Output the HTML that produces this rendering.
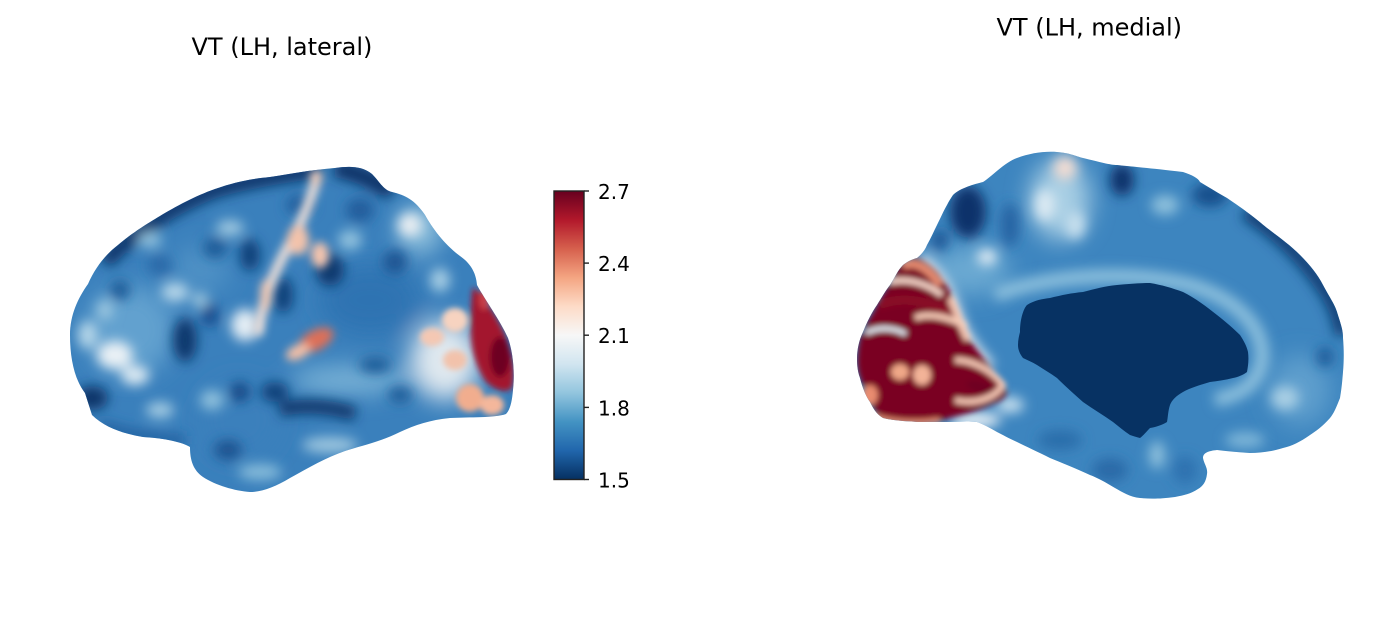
<!DOCTYPE html>
<html><head><meta charset="utf-8"><style>
html,body{margin:0;padding:0;background:#fff;}
svg{display:block;}
text{font-family:"DejaVu Sans","Liberation Sans",sans-serif;fill:#000;}
</style></head><body>
<svg width="1396" height="639" viewBox="0 0 1396 639" xmlns="http://www.w3.org/2000/svg">
<defs>
<linearGradient id="cb" x1="0" y1="1" x2="0" y2="0">
<stop offset="0" stop-color="#053061"/><stop offset="0.1" stop-color="#2166ac"/><stop offset="0.2" stop-color="#4393c3"/><stop offset="0.3" stop-color="#92c5de"/><stop offset="0.4" stop-color="#d1e5f0"/><stop offset="0.5" stop-color="#f7f7f7"/><stop offset="0.6" stop-color="#fddbc7"/><stop offset="0.7" stop-color="#f4a582"/><stop offset="0.8" stop-color="#d6604d"/><stop offset="0.9" stop-color="#b2182b"/><stop offset="1" stop-color="#67001f"/>
</linearGradient>
<filter id="b6" filterUnits="userSpaceOnUse" x="0" y="0" width="1396" height="639"><feGaussianBlur stdDeviation="6"/></filter>
<filter id="b4u" filterUnits="userSpaceOnUse" x="0" y="0" width="1396" height="639"><feGaussianBlur stdDeviation="4.5"/></filter>
<filter id="b3u" filterUnits="userSpaceOnUse" x="0" y="0" width="1396" height="639"><feGaussianBlur stdDeviation="3"/></filter>
<filter id="b12" filterUnits="userSpaceOnUse" x="0" y="0" width="1396" height="639"><feGaussianBlur stdDeviation="12"/></filter>
<clipPath id="latc"><path d="M85,393 C75,380 70,360 70,335 C70,315 78,298 88,284 C95,268 105,255 118,245 C130,235 140,228 160,216 C175,207 195,196 215,189 C235,182 250,179 270,177 C290,174 310,170 335,168 C350,166 362,166 372,174 C380,182 383,190 392,192 C405,195 415,200 425,215 C432,228 445,245 460,256 C470,263 476,272 477,285 C485,300 500,320 508,338 C513,352 515,372 513,390 C512,402 510,410 506,414 C495,418 470,417 450,418 C430,420 415,425 400,432 C380,442 360,446 345,451 C325,458 310,467 290,478 C275,487 262,492 250,492 C235,491 215,485 203,477 C193,470 190,460 190,447 C180,441 160,438 143,437 C125,434 105,428 92,415 Z"/></clipPath>
<clipPath id="medc"><path d="M953,195 C960,188 975,184 983,182 C990,178 1005,162 1017,158 C1030,153 1045,151 1057,152 C1070,153 1075,156 1083,158 C1100,162 1110,165 1117,165 C1135,167 1150,168 1183,172 C1192,175 1198,178 1200,182 C1210,188 1218,193 1227,198 C1245,210 1255,218 1267,228 C1280,238 1290,245 1300,255 C1310,265 1318,275 1323,285 C1330,298 1335,305 1337,312 C1341,325 1343,330 1343,338 C1344,350 1344,360 1343,372 C1342,385 1341,392 1340,398 C1336,408 1334,413 1330,418 C1322,427 1316,431 1310,435 C1300,442 1292,446 1283,448 C1270,452 1260,453 1250,453 C1235,452 1225,451 1217,450 C1208,451 1203,453 1203,458 C1204,464 1208,468 1207,474 C1206,482 1203,486 1198,489 C1190,494 1185,495 1175,497 C1160,499 1150,499 1140,498 C1130,497 1122,492 1115,488 C1105,482 1098,478 1090,475 C1075,468 1062,463 1050,458 C1038,452 1027,447 1017,442 C1008,438 1003,435 997,432 C990,428 983,424 977,422 C965,421 958,422 950,422 C935,422 925,422 917,422 C905,421 895,421 883,418 C876,414 873,408 870,402 C865,395 862,386 860,378 C857,370 857,362 857,358 C857,350 859,340 863,332 C867,322 872,312 877,305 C882,297 886,290 890,285 C895,277 898,270 903,265 C908,261 913,259 917,258 C922,254 925,250 927,245 C931,238 934,231 937,225 C941,217 944,210 947,205 C949,201 951,198 953,195 Z"/></clipPath>
</defs>

<rect width="1396" height="639" fill="#fff"/>

<!-- Titles -->
<text x="191.5" y="55" font-size="24">VT (LH, lateral)</text>
<text x="996.5" y="35.5" font-size="24">VT (LH, medial)</text>

<!-- ============ LATERAL ============ -->
<g clip-path="url(#latc)">
<rect x="60" y="160" width="470" height="340" fill="#3a80bc"/>
<g filter="url(#b12)">
  <ellipse cx="130" cy="330" rx="45" ry="45" fill="#62a1cf"/>
  <ellipse cx="370" cy="300" rx="50" ry="35" fill="#2f73b2"/>
  <ellipse cx="350" cy="380" rx="60" ry="14" fill="#7ab3d7"/>
  <ellipse cx="445" cy="360" rx="35" ry="40" fill="#dfe8ef"/>
  <ellipse cx="240" cy="420" rx="40" ry="40" fill="#3a80bc"/>
  <ellipse cx="420" cy="230" rx="22" ry="25" fill="#8dbfdc"/>
  <ellipse cx="200" cy="270" rx="30" ry="25" fill="#4d90c5"/>
</g>
<g filter="url(#b6)">
  <!-- dark top frontal rim -->
  <path d="M105,262 C130,235 165,210 215,190 C250,180 285,175 320,170" stroke="#093569" stroke-width="16" fill="none"/>
  <path d="M335,168 C355,172 375,180 392,192" stroke="#083266" stroke-width="18" fill="none"/>
  <ellipse cx="185" cy="340" rx="12" ry="22" fill="#0a386d"/>
  <ellipse cx="210" cy="315" rx="8" ry="12" fill="#14498a"/>
  <ellipse cx="92" cy="398" rx="16" ry="12" fill="#093569"/>
  <path d="M100,425 C130,435 160,440 185,440" stroke="#245f9e" stroke-width="10" fill="none"/>
  <ellipse cx="250" cy="255" rx="10" ry="16" fill="#0e3f78"/>
  <ellipse cx="283" cy="295" rx="10" ry="18" fill="#0e3f78"/>
  <ellipse cx="330" cy="270" rx="14" ry="16" fill="#0a386d"/>
  <ellipse cx="300" cy="205" rx="14" ry="10" fill="#235f9e"/>
  <ellipse cx="360" cy="210" rx="14" ry="12" fill="#215d9c"/>
  <ellipse cx="395" cy="262" rx="12" ry="12" fill="#1a5493"/>
  <path d="M280,410 C300,404 330,406 355,414" stroke="#093569" stroke-width="14" fill="none"/>
  <ellipse cx="275" cy="392" rx="14" ry="10" fill="#0e3f78"/>
  <ellipse cx="240" cy="392" rx="10" ry="10" fill="#134a86"/>
  <ellipse cx="228" cy="450" rx="14" ry="10" fill="#1a5290"/>
  <ellipse cx="215" cy="248" rx="12" ry="10" fill="#1f5b98"/>
  <ellipse cx="160" cy="265" rx="12" ry="10" fill="#2a69a8"/>
  <ellipse cx="375" cy="365" rx="16" ry="8" fill="#1f5b98"/>
  <ellipse cx="400" cy="395" rx="12" ry="8" fill="#1f5b98"/>
  <ellipse cx="120" cy="290" rx="10" ry="10" fill="#1f5b98"/>
  <!-- light patches -->
  <ellipse cx="115" cy="355" rx="18" ry="14" fill="#eaf1f5"/>
  <ellipse cx="135" cy="375" rx="14" ry="10" fill="#dbe9f2"/>
  <ellipse cx="88" cy="335" rx="10" ry="14" fill="#b4d5e8"/>
  <ellipse cx="245" cy="325" rx="14" ry="16" fill="#e3edf4"/>
  <ellipse cx="175" cy="292" rx="14" ry="10" fill="#b2d4e8"/>
  <ellipse cx="230" cy="228" rx="14" ry="8" fill="#9ec8e0"/>
  <ellipse cx="330" cy="445" rx="28" ry="8" fill="#9cc6df"/>
  <ellipse cx="260" cy="472" rx="22" ry="8" fill="#86bbda"/>
  <ellipse cx="212" cy="400" rx="12" ry="10" fill="#8dbfdc"/>
  <ellipse cx="410" cy="225" rx="12" ry="12" fill="#e9eef2"/>
  <ellipse cx="200" cy="300" rx="8" ry="8" fill="#9ec7df"/>
  <ellipse cx="150" cy="240" rx="12" ry="8" fill="#8fc0dc"/>
  <ellipse cx="105" cy="310" rx="8" ry="10" fill="#9ec8e0"/>
  <ellipse cx="350" cy="240" rx="12" ry="10" fill="#90c1dd"/>
  <ellipse cx="440" cy="280" rx="10" ry="12" fill="#a6cde3"/>
  <ellipse cx="160" cy="410" rx="14" ry="8" fill="#a3cbe2"/>
</g>
<g filter="url(#b4u)">
  <!-- central sulcus light / pink strip -->
  <path d="M318,172 C314,190 306,212 296,232 C285,252 272,275 265,300 C261,315 258,325 258,335" stroke="#eddfd9" stroke-width="10" fill="none"/>
  <ellipse cx="298" cy="240" rx="11" ry="15" fill="#f3c3ab"/>
  <ellipse cx="320" cy="255" rx="9" ry="13" fill="#f5c5ae"/>
  <ellipse cx="316" cy="178" rx="6" ry="8" fill="#f5d0bd"/>
  <ellipse cx="266" cy="295" rx="6" ry="16" fill="#f1c9b5"/>
  <!-- sylvian red -->
  <ellipse cx="316" cy="340" rx="19" ry="10" fill="#dd6f58" transform="rotate(-28 316 340)"/>
  <ellipse cx="298" cy="352" rx="13" ry="7" fill="#f6c0a6" transform="rotate(-25 298 352)"/>
</g>
<g filter="url(#b3u)">
  <!-- occipital pink -->
  <ellipse cx="455" cy="320" rx="13" ry="12" fill="#f7d3c0"/>
  <ellipse cx="432" cy="337" rx="12" ry="9" fill="#f4c8b3"/>
  <ellipse cx="455" cy="360" rx="12" ry="10" fill="#f2c2ab"/>
  <ellipse cx="470" cy="398" rx="14" ry="14" fill="#f1ad8e"/>
  <ellipse cx="492" cy="405" rx="12" ry="10" fill="#f4b79b"/>
  <!-- occipital red -->
  <path d="M473,287 C482,295 495,312 505,335 C512,352 516,370 512,388 C506,394 495,390 486,382 C478,370 472,355 471,335 C471,315 471,298 473,287 Z" fill="#a3142d"/>
  <ellipse cx="500" cy="357" rx="10" ry="20" fill="#6e0220"/>
  <ellipse cx="484" cy="300" rx="5" ry="10" fill="#c8414a"/>
</g>
</g>

<!-- Colorbar -->
<rect x="554" y="191" width="30" height="288.5" fill="url(#cb)" stroke="#222" stroke-width="1.4"/>
<g stroke="#222" stroke-width="1.4">
<line x1="584" y1="191" x2="589" y2="191"/>
<line x1="584" y1="263.1" x2="589" y2="263.1"/>
<line x1="584" y1="335.2" x2="589" y2="335.2"/>
<line x1="584" y1="407.4" x2="589" y2="407.4"/>
<line x1="584" y1="479.5" x2="589" y2="479.5"/>
</g>
<g font-size="20">
<text x="598" y="199">2.7</text>
<text x="598" y="271.1">2.4</text>
<text x="598" y="343.2">2.1</text>
<text x="598" y="415.4">1.8</text>
<text x="598" y="487.5">1.5</text>
</g>

<!-- ============ MEDIAL ============ -->
<g clip-path="url(#medc)">
<rect x="850" y="145" width="500" height="360" fill="#3d85bf"/>
<g filter="url(#b12)">
  <ellipse cx="1060" cy="200" rx="30" ry="40" fill="#a9cfe4"/>
  <ellipse cx="970" cy="270" rx="40" ry="25" fill="#6aa9d2"/>
  <ellipse cx="1300" cy="390" rx="30" ry="35" fill="#5e9fcd"/>
</g>
<g filter="url(#b6)">
  <!-- cingulate light ring -->
  <path d="M995,295 C1040,278 1120,268 1190,285 C1240,300 1265,330 1262,360 C1258,385 1240,395 1215,400" stroke="#8cc0dd" stroke-width="14" fill="none"/>
  <ellipse cx="968" cy="212" rx="18" ry="26" fill="#08336a"/>
  <ellipse cx="940" cy="240" rx="8" ry="10" fill="#1a5392"/>
  <ellipse cx="1010" cy="225" rx="9" ry="22" fill="#2564a3"/>
  <ellipse cx="1122" cy="180" rx="12" ry="16" fill="#08336a"/>
  <ellipse cx="1210" cy="195" rx="18" ry="12" fill="#194f8c"/>
  <path d="M1245,212 C1280,235 1305,260 1325,290 C1335,305 1340,320 1342,335" stroke="#0b3a70" stroke-width="14" fill="none"/>
  <ellipse cx="1325" cy="357" rx="8" ry="10" fill="#1e5a98"/>
  <ellipse cx="1065" cy="168" rx="12" ry="12" fill="#f3ddd3"/>
  <ellipse cx="1045" cy="205" rx="10" ry="16" fill="#dceaf3"/>
  <ellipse cx="1075" cy="225" rx="10" ry="14" fill="#c8e0ee"/>
  <ellipse cx="1165" cy="205" rx="14" ry="10" fill="#8dc0dc"/>
  <ellipse cx="987" cy="257" rx="10" ry="8" fill="#e3eef5"/>
  <ellipse cx="1285" cy="398" rx="14" ry="12" fill="#a9cfe4"/>
  <ellipse cx="1245" cy="440" rx="20" ry="8" fill="#7db5d8"/>
  <ellipse cx="975" cy="420" rx="26" ry="8" fill="#e6eff5"/>
  <ellipse cx="1010" cy="405" rx="14" ry="8" fill="#c6dfee"/>
  <ellipse cx="1060" cy="440" rx="22" ry="10" fill="#2c6eab"/>
  <ellipse cx="1110" cy="470" rx="18" ry="12" fill="#2a6aa8"/>
  <ellipse cx="1157" cy="455" rx="8" ry="14" fill="#8dc0dc"/>
  <ellipse cx="1185" cy="470" rx="12" ry="14" fill="#2f72b0"/>
  <!-- pink/white transition at red edge -->
  <path d="M920,258 C935,270 948,290 956,315 C962,335 975,352 990,368" stroke="#e8edf1" stroke-width="12" fill="none"/>
</g>
<!-- red occipital -->
<g filter="url(#b3u)">
  <path d="M900,265 C907,260 912,257 917,258 C927,262 933,268 937,272 C943,280 947,286 950,292 C954,303 957,313 960,322 C965,332 969,340 973,345 C977,350 980,354 983,358 C988,364 993,370 997,375 C1001,381 1005,387 1007,392 C1005,397 1002,400 997,402 C992,404 988,406 983,408 C975,411 968,413 960,415 C948,418 936,422 923,425 C912,424 900,423 890,422 C882,418 877,413 873,408 C868,400 865,392 863,385 C859,378 858,371 857,365 C857,355 858,346 860,338 C864,328 868,320 873,312 C878,302 882,295 887,288 C891,280 895,272 900,265 Z" fill="#7a0522"/>
  <path d="M903,266 C915,260 928,268 940,285" stroke="#e48a70" stroke-width="8" fill="none"/>
  <path d="M890,282 C905,278 925,282 942,295" stroke="#f3d3c6" stroke-width="6" fill="none"/>
  <path d="M880,305 C900,296 925,300 948,312" stroke="#8a0a25" stroke-width="9" fill="none"/>
  <path d="M950,298 C958,315 962,330 968,340" stroke="#f1c1ad" stroke-width="7" fill="none"/>
  <path d="M915,318 C930,312 950,318 966,326" stroke="#f5cbb6" stroke-width="6" fill="none"/>
  <path d="M866,333 C880,326 895,328 906,334" stroke="#dfe9f0" stroke-width="5" fill="none"/>
  <ellipse cx="900" cy="372" rx="9" ry="8" fill="#f0a888"/>
  <ellipse cx="922" cy="375" rx="9" ry="10" fill="#f3b398"/>
  <ellipse cx="870" cy="395" rx="8" ry="10" fill="#e98c70"/>
  <path d="M955,360 C972,360 992,370 1003,385 C995,398 975,405 955,400" stroke="#f4c7b4" stroke-width="6" fill="none"/>
  <ellipse cx="980" cy="387" rx="14" ry="5" fill="#6e0220" transform="rotate(15 980 387)"/>
  <path d="M870,415 C890,422 915,424 940,420" stroke="#e58a70" stroke-width="5" fill="none"/>
</g>
<!-- dark center -->
<path d="M1020,332 C1020,318 1024,308 1027,305 C1035,300 1042,299 1050,298 C1062,295 1072,293 1083,292 C1095,289 1105,286 1117,285 C1128,284 1140,283 1150,283 C1162,285 1172,288 1183,292 C1195,298 1207,307 1217,315 C1226,322 1234,329 1240,335 C1244,341 1247,347 1248,352 C1249,360 1248,366 1247,372 C1243,375 1238,377 1233,378 C1225,380 1218,381 1210,382 C1200,385 1190,388 1183,392 C1176,396 1172,400 1170,405 C1168,411 1168,417 1167,422 C1162,425 1156,427 1150,428 C1146,432 1143,436 1140,438 C1136,437 1133,436 1130,435 C1124,431 1118,426 1113,422 C1103,415 1093,409 1083,402 C1074,394 1065,386 1057,378 C1050,373 1043,369 1037,365 C1032,362 1027,360 1023,358 C1020,354 1018,350 1018,345 C1018,340 1019,336 1020,332 Z" fill="#073263"/>
</g>
</svg>
</body></html>
